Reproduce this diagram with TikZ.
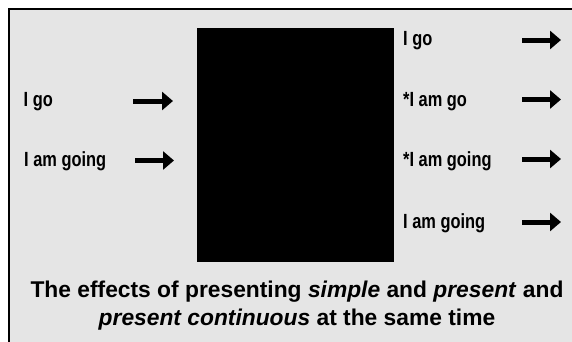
\documentclass[tikz,border=0pt]{standalone}
\usepackage{fontspec}
\setmainfont{Liberation Sans}
\newfontfamily\narrowfont[FakeStretch=0.8]{Liberation Sans}
\usetikzlibrary{arrows.meta}
\begin{document}
\begin{tikzpicture}[x=1pt,y=-1pt,
  lbl/.style={anchor=base west,inner sep=0pt,font=\narrowfont\bfseries\fontsize{20.5}{24}\selectfont},
  arr/.style={line width=5pt,-{Triangle[length=11pt,width=18pt]}},
  captext/.style={align=center,inner sep=0pt,font=\bfseries\fontsize{22.8}{27.5}\selectfont}]
\useasboundingbox (0,0) rectangle (572,341);
\clip (0,0) rectangle (572,341);
\fill[white] (0,0) rectangle (572,341);
\draw[line width=2.5pt,fill=black!10] (9,9) rectangle (600,380);
\fill[black] (197,28) rectangle (394,262);
% left labels
\node[lbl] (l1) at (23.5,106.5) {I go};
\node[lbl] (l2) at (24,166.5) {I am going};
\coordinate (la1s) at (133,101); \coordinate (la1e) at (173,101);
\coordinate (la2s) at (135,160.5); \coordinate (la2e) at (174,160.5);
\draw[arr] (la1s) -- (la1e);
\draw[arr] (la2s) -- (la2e);
% right labels
\node[lbl] (r1) at (403,45) {I go};
\node[lbl] (r2) at (403,106) {*I am go};
\node[lbl] (r3) at (403,166.5) {*I am going};
\node[lbl] (r4) at (403,228) {I am going};
\coordinate (ra1s) at (522,40); \coordinate (ra1e) at (561,40);
\coordinate (ra2s) at (522,99.5); \coordinate (ra2e) at (561,99.5);
\coordinate (ra3s) at (522,159); \coordinate (ra3e) at (561,159);
\coordinate (ra4s) at (522,222); \coordinate (ra4e) at (561,222);
\draw[arr] (ra1s) -- (ra1e);
\draw[arr] (ra2s) -- (ra2e);
\draw[arr] (ra3s) -- (ra3e);
\draw[arr] (ra4s) -- (ra4e);
% caption
\node[captext] (caption) at (297,305.4) {The effects of presenting \textit{simple} and \textit{present} and\\\textit{present continuous} at the same time};
\end{tikzpicture}
\end{document}
